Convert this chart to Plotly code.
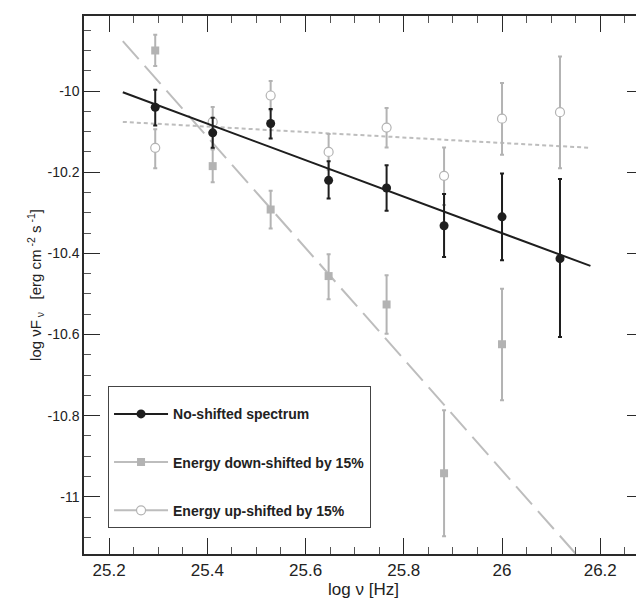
import plotly.graph_objects as go

# ---- data ----
log_nu = [25.294, 25.411, 25.529, 25.647, 25.765, 25.882, 26.0, 26.118]

# No-shifted spectrum
noshift_y = [-10.040, -10.103, -10.080, -10.220, -10.239, -10.332, -10.310, -10.413]
noshift_err_plus = [0.043, 0.037, 0.036, 0.047, 0.056, 0.078, 0.107, 0.196]
noshift_err_minus = [0.045, 0.037, 0.037, 0.045, 0.056, 0.077, 0.107, 0.193]

# Energy down-shifted by 15%
down_x = [25.294, 25.411, 25.529, 25.647, 25.765, 25.882, 26.0]
down_y = [-9.900, -10.185, -10.292, -10.456, -10.526, -10.942, -10.624]
down_err_plus = [0.039, 0.043, 0.046, 0.054, 0.072, 0.155, 0.137]
down_err_minus = [0.038, 0.040, 0.047, 0.057, 0.072, 0.155, 0.138]

# Energy up-shifted by 15%
up_y = [-10.140, -10.076, -10.011, -10.150, -10.090, -10.209, -10.068, -10.052]
up_err_plus = [0.046, 0.037, 0.036, 0.044, 0.048, 0.070, 0.088, 0.137]
up_err_minus = [0.050, 0.068, 0.036, 0.044, 0.049, 0.072, 0.089, 0.138]

# Power-law fits (end points)
fit_x = [25.228, 26.180]
fit_noshift_y = [-10.003, -10.431]
fit_up_y = [-10.076, -10.140]
fit_down_x = [25.228, 26.2]
fit_down_y = [-9.877, -11.209]

legend_names = ["No-shifted spectrum", "Energy down-shifted by 15%", "Energy up-shifted by 15%"]

x_tick_vals = [25.2, 25.4, 25.6, 25.8, 26.0, 26.2]
x_tick_labels = ["25.2", "25.4", "25.6", "25.8", "26", "26.2"]
y_tick_vals = [-11.0, -10.8, -10.6, -10.4, -10.2, -10.0]
y_tick_labels = ["-11", "-10.8", "-10.6", "-10.4", "-10.2", "-10"]

BLACK = "#1e1e1e"
GRAY = "#b3b3b3"
LGRAY = "#bdbdbd"

fig = go.Figure()

# fit lines
fig.add_trace(go.Scatter(x=fit_down_x, y=fit_down_y, mode="lines", showlegend=False,
                         line=dict(color=LGRAY, width=2, dash="24px,9px"), hoverinfo="skip"))
fig.add_trace(go.Scatter(x=fit_x, y=fit_up_y, mode="lines", showlegend=False,
                         line=dict(color=LGRAY, width=2, dash="4px,3px"), hoverinfo="skip"))

# data: down-shifted
fig.add_trace(go.Scatter(
    x=down_x, y=down_y, mode="markers", showlegend=False,
    marker=dict(symbol="square", size=8, color=GRAY),
    error_y=dict(type="data", symmetric=False, array=down_err_plus, arrayminus=down_err_minus,
                 color=GRAY, thickness=2, width=2)))
# data: up-shifted
fig.add_trace(go.Scatter(
    x=log_nu, y=up_y, mode="markers", showlegend=False,
    marker=dict(symbol="circle", size=9, color="white", line=dict(color=GRAY, width=1.2)),
    error_y=dict(type="data", symmetric=False, array=up_err_plus, arrayminus=up_err_minus,
                 color=GRAY, thickness=2, width=2)))

fig.add_trace(go.Scatter(x=fit_x, y=fit_noshift_y, mode="lines", showlegend=False,
                         line=dict(color=BLACK, width=2), hoverinfo="skip"))
# data: no shift
fig.add_trace(go.Scatter(
    x=log_nu, y=noshift_y, mode="markers", showlegend=False,
    marker=dict(symbol="circle", size=9, color=BLACK),
    error_y=dict(type="data", symmetric=False, array=noshift_err_plus, arrayminus=noshift_err_minus,
                 color=BLACK, thickness=2, width=2)))

# legend entries
fig.add_trace(go.Scatter(x=[None], y=[None], mode="lines+markers", name=legend_names[0],
                         legendgroup="a", line=dict(color=BLACK, width=2),
                         marker=dict(symbol="circle", size=9, color=BLACK)))
fig.add_trace(go.Scatter(x=[None], y=[None], mode="lines+markers", name=legend_names[1],
                         legendgroup="b", line=dict(color=LGRAY, width=2),
                         marker=dict(symbol="square", size=8, color=GRAY)))
fig.add_trace(go.Scatter(x=[None], y=[None], mode="lines+markers", name=legend_names[2],
                         legendgroup="c", line=dict(color=LGRAY, width=2),
                         marker=dict(symbol="circle", size=9, color="white", line=dict(color=GRAY, width=1.2))))

axis_common = dict(
    showline=True, linecolor="#2a2a2a", linewidth=1.5, mirror="ticks",
    ticks="inside", ticklen=16, tickwidth=1.3, tickcolor="#2a2a2a",
    showgrid=False, zeroline=False, automargin=False,
    minor=dict(ticks="inside", ticklen=7, tickwidth=1.2, tickcolor="#555555", dtick=0.05, showgrid=False),
)

fig.update_xaxes(
    range=[25.149, 26.287], tickmode="array", tickvals=x_tick_vals, ticktext=x_tick_labels,
    tickfont=dict(family="Liberation Sans, Arial", size=17, color="#222222"),
    title=dict(text="log ν [Hz]", font=dict(family="Liberation Sans, Arial", size=17, color="#222222"),
               standoff=2),
    **axis_common)
fig.update_yaxes(
    range=[-11.141, -9.815], tickmode="array", tickvals=y_tick_vals, ticktext=y_tick_labels,
    tickfont=dict(family="Liberation Sans, Arial", size=14, color="#222222"),
    title=dict(text="log νF<sub> ν</sub>   [erg cm<sup> -2</sup> s<sup> -1</sup>]",
               font=dict(family="Liberation Sans, Arial", size=15, color="#222222"), standoff=2),
    **axis_common)

fig.update_layout(
    width=644, height=604,
    margin=dict(l=76, r=9, t=8, b=58),
    paper_bgcolor="white", plot_bgcolor="white",
    showlegend=True,
    legend=dict(
        x=0.043, y=0.313, xanchor="left", yanchor="top",
        bgcolor="white", bordercolor="#444444", borderwidth=1,
        font=dict(family="Liberation Sans, Arial", size=14, color="#222222", weight="bold"),
        itemwidth=54, tracegroupgap=27,
        title=dict(text=" ", font=dict(size=9)),
    ),
)

fig.write_html("out.html")
